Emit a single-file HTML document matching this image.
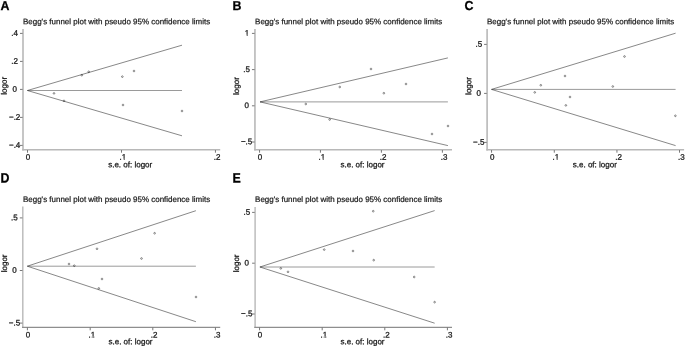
<!DOCTYPE html>
<html><head><meta charset="utf-8"><title>Begg's funnel plots</title>
<style>
html,body{margin:0;padding:0;background:#fff;}
svg{display:block;will-change:transform;}
text{font-family:"Liberation Sans", sans-serif;fill:#1a1a1a;text-rendering:geometricPrecision;}
.t{font-size:8px;stroke:#1a1a1a;stroke-width:0.28px;}
.h{font-size:7.97px;stroke:#1a1a1a;stroke-width:0.22px;}
.L{font-size:12.4px;font-weight:bold;fill:#000;stroke:#000;stroke-width:0.25px;}
</style></head>
<body>
<svg width="685" height="347" viewBox="0 0 685 347">
<rect width="685" height="347" fill="#fff"/>
<g>
<text class="L" transform="translate(0.5 10) rotate(0.03) scale(1 1.04)">A</text>
<text class="h" transform="translate(23 24.25) rotate(0.03)">Begg's funnel plot with pseudo 95% confidence limits</text>
<path d="M23 29.1V150.6" fill="none" stroke="#b8b8b8" stroke-width="1.6"/>
<path d="M22.2 149.8H220.2" fill="none" stroke="#b8b8b8" stroke-width="1.6"/>
<path d="M20 33.4H22.6M20 61.4H22.6M20 89.4H22.6M20 117.4H22.6M20 145.4H22.6M27.5 150.1V152.7M121.5 150.1V152.7M215.45 150.1V152.7" fill="none" stroke="#555" stroke-width="0.8"/>
<text class="t" text-anchor="middle" transform="translate(14.65 35.7) rotate(0.03)">.4</text>
<text class="t" text-anchor="middle" transform="translate(14.65 63.7) rotate(0.03)">.2</text>
<text class="t" text-anchor="middle" transform="translate(14.65 91.7) rotate(0.03)">0</text>
<text class="t" text-anchor="middle" transform="translate(14.65 119.7) rotate(0.03)">−.2</text>
<text class="t" text-anchor="middle" transform="translate(14.65 147.7) rotate(0.03)">−.4</text>
<text class="t" text-anchor="middle" transform="translate(27.9 159.8) rotate(0.03)">0</text>
<text class="t" text-anchor="middle" transform="translate(122.9 159.8) rotate(0.03)">.1</text>
<path d="M121.785 158.85h1.95v1.4h-1.95zM124.625 158.85h2.1v1.4h-2.1z" fill="#fff"/>
<text class="t" text-anchor="middle" transform="translate(217.2 159.8) rotate(0.03)">.2</text>
<text class="t" text-anchor="middle" transform="translate(6.8 85.8) rotate(-90.03)">logor</text>
<text class="t" text-anchor="middle" transform="translate(130.2 167.2) rotate(0.03)">s.e. of: logor</text>
<path d="M27.4 90.5H182" fill="none" stroke="#9a9a9a" stroke-width="1"/>
<path d="M182 45.2L27.4 90.5L182 135.8" fill="none" stroke="#2a2a2a" stroke-width="0.56" stroke-linejoin="miter"/>
<circle cx="54" cy="93.4" r="0.84" fill="none" stroke="#111" stroke-width="0.46"/>
<circle cx="64" cy="100.85" r="0.84" fill="none" stroke="#111" stroke-width="0.46"/>
<circle cx="81.8" cy="75.2" r="0.84" fill="none" stroke="#111" stroke-width="0.46"/>
<circle cx="88.7" cy="71.8" r="0.84" fill="none" stroke="#111" stroke-width="0.46"/>
<circle cx="122.36" cy="76.64" r="0.84" fill="none" stroke="#111" stroke-width="0.46"/>
<circle cx="134" cy="71" r="0.84" fill="none" stroke="#111" stroke-width="0.46"/>
<circle cx="123" cy="105" r="0.84" fill="none" stroke="#111" stroke-width="0.46"/>
<circle cx="182" cy="111" r="0.84" fill="none" stroke="#111" stroke-width="0.46"/>
</g>
<g>
<text class="L" transform="translate(232.4 10) rotate(0.03) scale(1 1.04)">B</text>
<text class="h" transform="translate(255.1 24.25) rotate(0.03)">Begg's funnel plot with pseudo 95% confidence limits</text>
<path d="M254.95 28.9V150.6" fill="none" stroke="#b8b8b8" stroke-width="1.6"/>
<path d="M254.15 149.8H452" fill="none" stroke="#b8b8b8" stroke-width="1.6"/>
<path d="M251.95 33.4H254.55M251.95 69.6H254.55M251.95 105.8H254.55M251.95 142H254.55M259.55 150.1V152.7M320.45 150.1V152.7M381.4 150.1V152.7M442.4 150.1V152.7" fill="none" stroke="#555" stroke-width="0.8"/>
<text class="t" text-anchor="middle" transform="translate(247 35.7) rotate(0.03)">1</text>
<path d="M244.775 34.75h1.95v1.4h-1.95zM247.615 34.75h2.1v1.4h-2.1z" fill="#fff"/>
<text class="t" text-anchor="middle" transform="translate(246.6 71.9) rotate(0.03)">.5</text>
<text class="t" text-anchor="middle" transform="translate(246.6 108.1) rotate(0.03)">0</text>
<text class="t" text-anchor="middle" transform="translate(246.6 144.3) rotate(0.03)">−.5</text>
<text class="t" text-anchor="middle" transform="translate(259.9 159.8) rotate(0.03)">0</text>
<text class="t" text-anchor="middle" transform="translate(321.9 159.8) rotate(0.03)">.1</text>
<path d="M320.785 158.85h1.95v1.4h-1.95zM323.625 158.85h2.1v1.4h-2.1z" fill="#fff"/>
<text class="t" text-anchor="middle" transform="translate(383.05 159.8) rotate(0.03)">.2</text>
<text class="t" text-anchor="middle" transform="translate(444.15 159.8) rotate(0.03)">.3</text>
<text class="t" text-anchor="middle" transform="translate(239 86.1) rotate(-90.03)">logor</text>
<text class="t" text-anchor="middle" transform="translate(362.5 167.2) rotate(0.03)">s.e. of: logor</text>
<path d="M260 101.9H447.9" fill="none" stroke="#9a9a9a" stroke-width="1"/>
<path d="M447.9 57.9L260 101.9L447.9 145.6" fill="none" stroke="#2a2a2a" stroke-width="0.56" stroke-linejoin="miter"/>
<circle cx="305.8" cy="104" r="0.84" fill="none" stroke="#111" stroke-width="0.46"/>
<circle cx="339.75" cy="87" r="0.84" fill="none" stroke="#111" stroke-width="0.46"/>
<circle cx="329.65" cy="119.5" r="0.84" fill="none" stroke="#111" stroke-width="0.46"/>
<circle cx="371" cy="69" r="0.84" fill="none" stroke="#111" stroke-width="0.46"/>
<circle cx="406" cy="84" r="0.84" fill="none" stroke="#111" stroke-width="0.46"/>
<circle cx="383.85" cy="93.2" r="0.84" fill="none" stroke="#111" stroke-width="0.46"/>
<circle cx="432" cy="134" r="0.84" fill="none" stroke="#111" stroke-width="0.46"/>
<circle cx="448" cy="126" r="0.84" fill="none" stroke="#111" stroke-width="0.46"/>
</g>
<g>
<text class="L" transform="translate(464.4 10) rotate(0.03) scale(1 1.04)">C</text>
<text class="h" transform="translate(487 24.25) rotate(0.03)">Begg's funnel plot with pseudo 95% confidence limits</text>
<path d="M487.1 28.9V150.6" fill="none" stroke="#b8b8b8" stroke-width="1.6"/>
<path d="M486.3 149.8H684.1" fill="none" stroke="#b8b8b8" stroke-width="1.6"/>
<path d="M484.1 44.4H486.7M484.1 93.4H486.7M484.1 142.4H486.7M491.55 150.1V152.7M554.3 150.1V152.7M616.95 150.1V152.7M679.5 150.1V152.7" fill="none" stroke="#555" stroke-width="0.8"/>
<text class="t" text-anchor="middle" transform="translate(478.75 46.7) rotate(0.03)">.5</text>
<text class="t" text-anchor="middle" transform="translate(478.75 95.7) rotate(0.03)">0</text>
<text class="t" text-anchor="middle" transform="translate(478.75 144.7) rotate(0.03)">−.5</text>
<text class="t" text-anchor="middle" transform="translate(492.2 159.8) rotate(0.03)">0</text>
<text class="t" text-anchor="middle" transform="translate(555.85 159.8) rotate(0.03)">.1</text>
<path d="M554.735 158.85h1.95v1.4h-1.95zM557.575 158.85h2.1v1.4h-2.1z" fill="#fff"/>
<text class="t" text-anchor="middle" transform="translate(618.65 159.8) rotate(0.03)">.2</text>
<text class="t" text-anchor="middle" transform="translate(681.35 159.8) rotate(0.03)">.3</text>
<text class="t" text-anchor="middle" transform="translate(471.3 86) rotate(-90.03)">logor</text>
<text class="t" text-anchor="middle" transform="translate(594.8 167.2) rotate(0.03)">s.e. of: logor</text>
<path d="M491.5 89.4H675.6" fill="none" stroke="#9a9a9a" stroke-width="1"/>
<path d="M675.6 33.2L491.5 89.4L675.6 145.6" fill="none" stroke="#2a2a2a" stroke-width="0.56" stroke-linejoin="miter"/>
<circle cx="534.75" cy="92.4" r="0.84" fill="none" stroke="#111" stroke-width="0.46"/>
<circle cx="540.8" cy="85.25" r="0.84" fill="none" stroke="#111" stroke-width="0.46"/>
<circle cx="565" cy="76" r="0.84" fill="none" stroke="#111" stroke-width="0.46"/>
<circle cx="570" cy="97" r="0.84" fill="none" stroke="#111" stroke-width="0.46"/>
<circle cx="565.85" cy="105.4" r="0.84" fill="none" stroke="#111" stroke-width="0.46"/>
<circle cx="624.5" cy="56.5" r="0.84" fill="none" stroke="#111" stroke-width="0.46"/>
<circle cx="612.8" cy="86.5" r="0.84" fill="none" stroke="#111" stroke-width="0.46"/>
<circle cx="675.4" cy="115.8" r="0.84" fill="none" stroke="#111" stroke-width="0.46"/>
</g>
<g>
<text class="L" transform="translate(0.5 182.45) rotate(0.03) scale(1 1.09)">D</text>
<text class="h" transform="translate(23 202) rotate(0.03)">Begg's funnel plot with pseudo 95% confidence limits</text>
<path d="M22.8 206.6V327.95" fill="none" stroke="#b8b8b8" stroke-width="1.4"/>
<path d="M22 327.4H220.2" fill="none" stroke="#8e8e8e" stroke-width="1.1"/>
<path d="M19.8 217.9H22.4M19.8 270.5H22.4M19.8 323.1H22.4M27.4 327.7V330.3M90.2 327.7V330.3M152.8 327.7V330.3M215.45 327.7V330.3" fill="none" stroke="#555" stroke-width="0.8"/>
<text class="t" text-anchor="middle" transform="translate(14.45 220.2) rotate(0.03)">.5</text>
<text class="t" text-anchor="middle" transform="translate(14.45 272.8) rotate(0.03)">0</text>
<text class="t" text-anchor="middle" transform="translate(14.45 325.4) rotate(0.03)">−.5</text>
<text class="t" text-anchor="middle" transform="translate(27.9 337.4) rotate(0.03)">0</text>
<text class="t" text-anchor="middle" transform="translate(91.85 337.4) rotate(0.03)">.1</text>
<path d="M90.735 336.45h1.95v1.4h-1.95zM93.575 336.45h2.1v1.4h-2.1z" fill="#fff"/>
<text class="t" text-anchor="middle" transform="translate(154.15 337.4) rotate(0.03)">.2</text>
<text class="t" text-anchor="middle" transform="translate(217.15 337.4) rotate(0.03)">.3</text>
<text class="t" text-anchor="middle" transform="translate(7 263.4) rotate(-90.03)">logor</text>
<text class="t" text-anchor="middle" transform="translate(130.5 344.3) rotate(0.03)">s.e. of: logor</text>
<path d="M27.3 266.2H195.9" fill="none" stroke="#9a9a9a" stroke-width="1"/>
<path d="M195.9 210.7L27.3 266.2L195.9 321.7" fill="none" stroke="#2a2a2a" stroke-width="0.56" stroke-linejoin="miter"/>
<circle cx="69" cy="264" r="0.84" fill="none" stroke="#111" stroke-width="0.46"/>
<circle cx="74.3" cy="265.7" r="0.84" fill="none" stroke="#111" stroke-width="0.46"/>
<circle cx="97" cy="248.8" r="0.84" fill="none" stroke="#111" stroke-width="0.46"/>
<circle cx="102" cy="279" r="0.84" fill="none" stroke="#111" stroke-width="0.46"/>
<circle cx="98.8" cy="288.4" r="0.84" fill="none" stroke="#111" stroke-width="0.46"/>
<circle cx="154.6" cy="233.25" r="0.84" fill="none" stroke="#111" stroke-width="0.46"/>
<circle cx="141.5" cy="258.5" r="0.84" fill="none" stroke="#111" stroke-width="0.46"/>
<circle cx="196" cy="297" r="0.84" fill="none" stroke="#111" stroke-width="0.46"/>
</g>
<g>
<text class="L" transform="translate(232.4 182.5) rotate(0.03) scale(1 1.09)">E</text>
<text class="h" transform="translate(255.1 202) rotate(0.03)">Begg's funnel plot with pseudo 95% confidence limits</text>
<path d="M255.1 206.9V327.95" fill="none" stroke="#b8b8b8" stroke-width="1.4"/>
<path d="M254.3 327.4H452" fill="none" stroke="#8e8e8e" stroke-width="1.1"/>
<path d="M252.1 212.4H254.7M252.1 263.2H254.7M252.1 314H254.7M259.55 327.7V330.3M322.2 327.7V330.3M384.8 327.7V330.3M447.4 327.7V330.3" fill="none" stroke="#555" stroke-width="0.8"/>
<text class="t" text-anchor="middle" transform="translate(246.75 214.7) rotate(0.03)">.5</text>
<text class="t" text-anchor="middle" transform="translate(246.75 265.5) rotate(0.03)">0</text>
<text class="t" text-anchor="middle" transform="translate(246.75 316.3) rotate(0.03)">−.5</text>
<text class="t" text-anchor="middle" transform="translate(260 337.4) rotate(0.03)">0</text>
<text class="t" text-anchor="middle" transform="translate(323.85 337.4) rotate(0.03)">.1</text>
<path d="M322.735 336.45h1.95v1.4h-1.95zM325.575 336.45h2.1v1.4h-2.1z" fill="#fff"/>
<text class="t" text-anchor="middle" transform="translate(386.45 337.4) rotate(0.03)">.2</text>
<text class="t" text-anchor="middle" transform="translate(449.15 337.4) rotate(0.03)">.3</text>
<text class="t" text-anchor="middle" transform="translate(239.1 263.4) rotate(-90.03)">logor</text>
<text class="t" text-anchor="middle" transform="translate(362.5 344.3) rotate(0.03)">s.e. of: logor</text>
<path d="M259.9 267H434.65" fill="none" stroke="#9a9a9a" stroke-width="1"/>
<path d="M434.65 210.6L259.9 267L434.65 323.2" fill="none" stroke="#2a2a2a" stroke-width="0.56" stroke-linejoin="miter"/>
<circle cx="280.8" cy="268.4" r="0.84" fill="none" stroke="#111" stroke-width="0.46"/>
<circle cx="288" cy="271.85" r="0.84" fill="none" stroke="#111" stroke-width="0.46"/>
<circle cx="324.2" cy="249.6" r="0.84" fill="none" stroke="#111" stroke-width="0.46"/>
<circle cx="373.25" cy="211.2" r="0.84" fill="none" stroke="#111" stroke-width="0.46"/>
<circle cx="353" cy="251" r="0.84" fill="none" stroke="#111" stroke-width="0.46"/>
<circle cx="373.7" cy="260.15" r="0.84" fill="none" stroke="#111" stroke-width="0.46"/>
<circle cx="414.2" cy="277" r="0.84" fill="none" stroke="#111" stroke-width="0.46"/>
<circle cx="434.6" cy="302.15" r="0.84" fill="none" stroke="#111" stroke-width="0.46"/>
</g>
</svg>
</body></html>
